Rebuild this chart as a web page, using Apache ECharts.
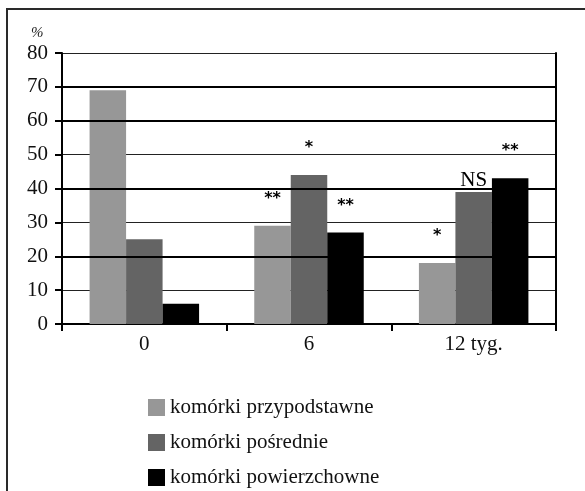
<!DOCTYPE html>
<html>
<head>
<meta charset="utf-8">
<script src="https://cdn.jsdelivr.net/npm/echarts@6/dist/echarts.min.js"></script>
<style>
  html, body { margin: 0; padding: 0; background: #fff; }
  #chart { width: 585px; height: 491px; }
</style>
</head>
<body>
<div id="chart"></div>
<script>
// Time points (weeks)
const categories = ['0', '6', '12 tyg.'];

// Share of cell types in the smear, %
const seriesNames = ['komórki przypodstawne', 'komórki pośrednie', 'komórki powierzchowne'];
const basalCells = [69, 29, 18];
const intermediateCells = [25, 44, 39];
const superficialCells = [6, 27, 43];

// Significance markers drawn above each bar
const basalMarks = ['', '**', '*'];
const intermediateMarks = ['', '*', 'NS'];
const superficialMarks = ['', '**', '**'];

const yTicks = [0, 10, 20, 30, 40, 50, 60, 70, 80];
// gridlines that print heavier
const heavyGrid = [20, 40, 60, 70];

const colors = ['#979797', '#646464', '#000000'];
const serif = '"Liberation Serif", "Times New Roman", serif';

function withMarks(values, marks) {
  return values.map((v, i) => {
    const m = marks[i];
    if (!m) return { value: v };
    const isStar = m.indexOf('*') >= 0;
    return {
      value: v,
      label: {
        show: true,
        position: 'top',
        formatter: m,
        distance: isStar ? 19 : 1,
        color: '#000',
        fontFamily: isStar ? '"DejaVu Sans", sans-serif' : serif,
        fontWeight: isStar ? 'bold' : 'normal',
        fontSize: isStar ? 16 : 21
      }
    };
  });
}

function barSeries(idx, values, marks) {
  return {
    type: 'bar',
    name: seriesNames[idx],
    barWidth: 36.5,
    barGap: '0%',
    z: 3,
    itemStyle: { color: colors[idx] },
    data: withMarks(values, marks)
  };
}

const chart = echarts.init(document.getElementById('chart'), null, { renderer: 'canvas' });

chart.setOption({
  animation: false,
  backgroundColor: '#fff',
  grid: { left: 62, right: 29, top: 53, bottom: 167, containLabel: false },
  graphic: [
    {
      type: 'rect',
      shape: { x: 7, y: 9, width: 600, height: 500 },
      style: { fill: 'none', stroke: '#2a2a2a', lineWidth: 2 },
      z: 0, silent: true
    },
    {
      type: 'text',
      left: 31, top: 26,
      style: { text: '%', font: 'italic 15px ' + serif, fill: '#222' },
      silent: true
    }
  ],
  legend: {
    orient: 'vertical',
    left: 148,
    top: 397,
    itemWidth: 17,
    itemHeight: 17,
    itemGap: 14,
    icon: 'rect',
    padding: 0,
    textStyle: { fontFamily: serif, fontSize: 21, color: '#111' },
    data: seriesNames
  },
  xAxis: {
    type: 'category',
    data: categories,
    boundaryGap: true,
    axisLine: { show: true, lineStyle: { color: '#000', width: 2 } },
    axisTick: { show: true, interval: 0, length: 7, alignWithLabel: false, lineStyle: { color: '#000', width: 2 } },
    axisLabel: { margin: 10, fontFamily: serif, fontSize: 21, color: '#111' },
    splitLine: { show: false }
  },
  yAxis: [
    {
      type: 'value',
      min: yTicks[0],
      max: yTicks[yTicks.length - 1],
      interval: yTicks[1] - yTicks[0],
      axisLine: { show: true, lineStyle: { color: '#000', width: 2 } },
      axisTick: { show: true, length: 7, lineStyle: { color: '#000', width: 2 } },
      axisLabel: { margin: 14, fontFamily: serif, fontSize: 21, color: '#111' },
      splitLine: { show: true, lineStyle: { color: '#222', width: 1 } }
    },
    {
      type: 'value',
      position: 'right',
      min: yTicks[0],
      max: yTicks[yTicks.length - 1],
      interval: yTicks[1] - yTicks[0],
      axisLine: { show: true, lineStyle: { color: '#000', width: 2 } },
      axisTick: { show: false },
      axisLabel: { show: false },
      splitLine: { show: false }
    }
  ],
  series: [
    {
      type: 'line',
      data: [],
      silent: true,
      z: 1,
      markLine: {
        silent: true,
        symbol: 'none',
        label: { show: false },
        lineStyle: { color: '#000', width: 2, type: 'solid' },
        data: heavyGrid.map(v => ({ yAxis: v }))
      }
    },
    barSeries(0, basalCells, basalMarks),
    barSeries(1, intermediateCells, intermediateMarks),
    barSeries(2, superficialCells, superficialMarks)
  ]
});
</script>
</body>
</html>
